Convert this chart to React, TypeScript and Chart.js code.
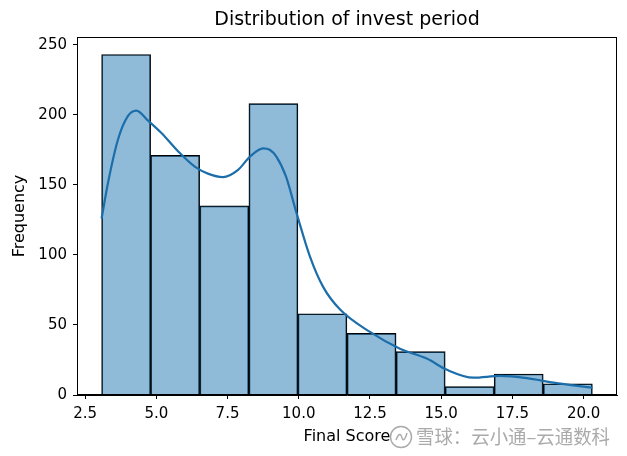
import React, { useEffect, useRef } from "react";
import { Chart, registerables } from "chart.js";

Chart.register(...registerables);

// ---- data ----
const binEdges = [3.08, 4.8, 6.52, 8.25, 9.97, 11.69, 13.42, 15.14, 16.86, 18.58, 20.31];
const counts = [243, 171, 135, 208, 58, 44, 31, 6, 15, 8];

const kdeX = [3.08, 3.3, 3.65, 4.0, 4.3, 4.7, 5.18, 5.76, 6.35, 6.81, 7.34, 7.87, 8.28, 8.75, 8.98, 9.22, 9.55, 9.92, 10.39, 10.86, 11.45, 12.5, 13.55, 14.49, 15.2, 16.13, 17.07, 18.01, 18.94, 20.31];
const kdeY = [126, 151, 182, 199, 203, 196, 187, 174, 163, 158, 155.5, 160.7, 170, 176, 175, 170, 156, 130, 99, 77, 61, 45, 33, 26, 18, 12.4, 13.6, 12, 8.8, 5.2];

const xMin = 2.216;
const xMax = 21.17;
const yMax = 255.5;
const xStep = 2.5;
const yStep = 50;

const titleText = "Distribution of invest period";
const xLabel = "Final Score";
const yLabel = "Frequency";
const watermarkText = "雪球：云小通–云通数科";

const FONT = "'DejaVu Sans', sans-serif";

const framePlugin = {
  id: "frame",
  afterDatasetsDraw(chart: any) {
    const { ctx, chartArea: a } = chart;
    ctx.save();
    ctx.strokeStyle = "#000";
    ctx.lineWidth = 1;
    const l = Math.round(a.left) + 0.5;
    const t = Math.round(a.top) + 0.5;
    const r = Math.round(a.right) - 0.5;
    const b = Math.round(a.bottom) - 0.5;
    ctx.strokeRect(l, t, r - l, b - t);
    ctx.restore();
  },
};

const watermarkPlugin = {
  id: "watermark",
  afterDraw(chart: any) {
    const { ctx } = chart;
    ctx.save();
    const cx = 401;
    const cy = 437;
    ctx.strokeStyle = "rgba(160,160,160,0.9)";
    ctx.lineWidth = 1.4;
    ctx.beginPath();
    ctx.arc(cx, cy, 10.5, 0, Math.PI * 2);
    ctx.stroke();
    ctx.beginPath();
    ctx.moveTo(cx - 5, cy + 3);
    ctx.quadraticCurveTo(cx - 1, cy - 7, cx + 1, cy + 1);
    ctx.quadraticCurveTo(cx + 3, cy + 6, cx + 6, cy - 4);
    ctx.stroke();
    ctx.fillStyle = "rgba(165,165,165,0.95)";
    ctx.font = "19px 'Noto Sans CJK SC', sans-serif";
    ctx.textBaseline = "middle";
    ctx.textAlign = "left";
    ctx.fillText(watermarkText, 416, cy, 194);
    ctx.restore();
  },
};

export default function App() {
  const ref = useRef<HTMLCanvasElement | null>(null);

  useEffect(() => {
    document.body.style.margin = "0";
    if (!ref.current) return;
    const barData = counts.map((c, i) => ({ x: (binEdges[i] + binEdges[i + 1]) / 2, y: c }));
    const kdeData = kdeX.map((x, i) => ({ x, y: kdeY[i] }));

    const chart = new Chart(ref.current, {
      type: "bar",
      data: {
        datasets: [
          {
            type: "line",
            data: kdeData,
            borderColor: "rgb(28,110,170)",
            borderWidth: 2.2,
            pointRadius: 0,
            cubicInterpolationMode: "monotone",
            fill: false,
            order: 0,
          } as any,
          {
            type: "bar",
            data: barData,
            backgroundColor: "rgba(31,119,180,0.5)",
            borderColor: "#000",
            borderWidth: 1,
            borderSkipped: "start",
            barPercentage: 1,
            categoryPercentage: 1,
            order: 1,
          } as any,
        ],
      },
      options: {
        animation: false,
        responsive: true,
        maintainAspectRatio: false,
        layout: { padding: { left: 0, right: 10, top: 0, bottom: 0 } },
        plugins: {
          legend: { display: false },
          tooltip: { enabled: false },
          title: {
            display: true,
            text: titleText,
            fullSize: false,
            color: "#000",
            font: { family: FONT, size: 19, weight: "normal" },
            padding: { top: 8.6, bottom: 5.6 },
          } as any,
        },
        scales: {
          x: {
            type: "linear",
            min: xMin,
            max: xMax,
            offset: false,
            afterFit: (s: any) => {
              s.height = 61;
            },
            grid: {
              display: true,
              offset: false,
              drawOnChartArea: false,
              drawTicks: true,
              tickLength: 4,
              color: "#000",
            },
            border: { display: true, color: "#000", width: 1 },
            ticks: {
              stepSize: xStep,
              includeBounds: false,
              color: "#000",
              padding: 6,
              maxRotation: 0,
              autoSkip: false,
              font: { family: FONT, size: 15 },
              callback: (v: any) => Number(v).toFixed(1),
            },
            title: {
              display: true,
              text: xLabel,
              color: "#000",
              font: { family: FONT, size: 16 },
              padding: { top: 0, bottom: 9.4 },
            },
          } as any,
          y: {
            type: "linear",
            min: 0,
            max: yMax,
            afterFit: (s: any) => {
              s.width = 77;
            },
            grid: {
              display: true,
              drawOnChartArea: false,
              drawTicks: true,
              tickLength: 4,
              color: "#000",
            },
            border: { display: true, color: "#000", width: 1 },
            ticks: {
              stepSize: yStep,
              includeBounds: false,
              color: "#000",
              padding: 6,
              font: { family: FONT, size: 15 },
              callback: (v: any) => String(Math.round(Number(v))),
            },
            title: {
              display: true,
              text: yLabel,
              color: "#000",
              font: { family: FONT, size: 16 },
              padding: { top: 10.4, bottom: 0 },
            },
          } as any,
        },
      },
      plugins: [framePlugin, watermarkPlugin],
    });
    return () => chart.destroy();
  }, []);

  return (
    <div style={{ position: "relative", width: 627, height: 456, background: "#fff" }}>
      <canvas ref={ref} />
    </div>
  );
}
